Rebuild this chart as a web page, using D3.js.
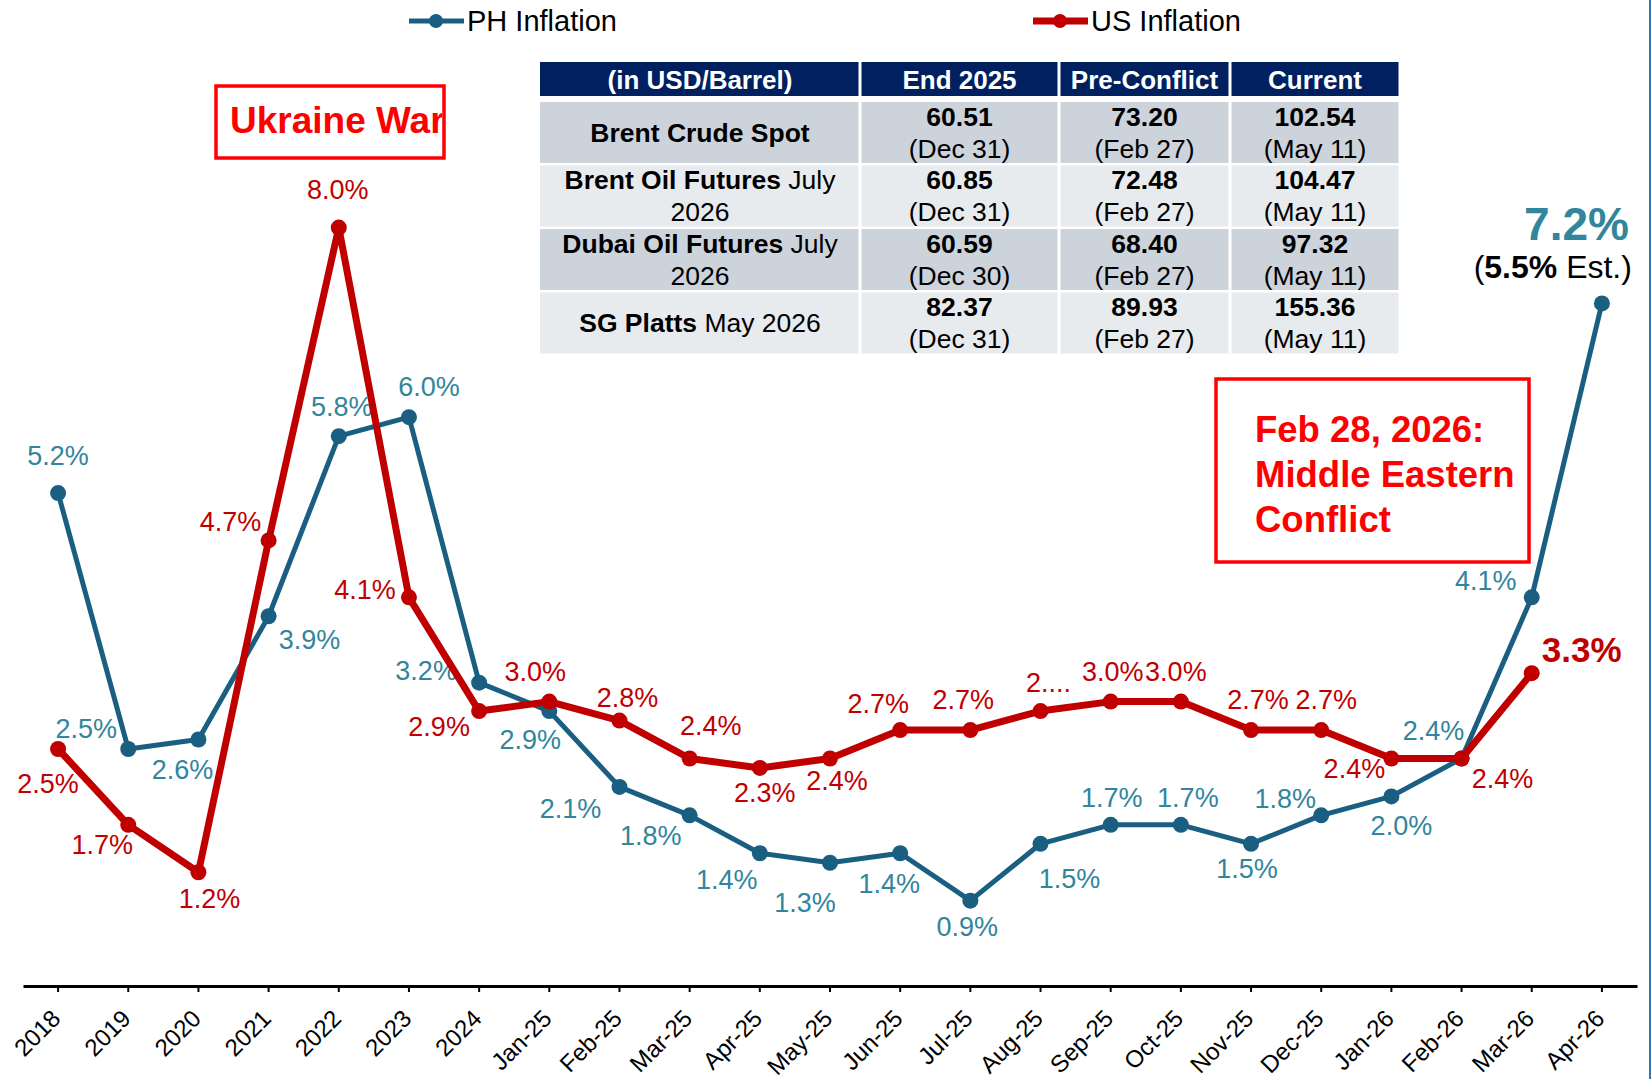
<!DOCTYPE html>
<html>
<head>
<meta charset="utf-8">
<script src="https://cdn.jsdelivr.net/npm/d3@7"></script>
<style>
  body { margin: 0; background: #fff; }
  svg { display: block; font-family: "Liberation Sans", Arial, sans-serif; }
</style>
</head>
<body>
<div id="chart"></div>
<script>
// data
const categories = ["2018","2019","2020","2021","2022","2023","2024","Jan-25","Feb-25","Mar-25","Apr-25","May-25","Jun-25","Jul-25","Aug-25","Sep-25","Oct-25","Nov-25","Dec-25","Jan-26","Feb-26","Mar-26","Apr-26"];
const phInflation = [5.2,2.5,2.6,3.9,5.8,6.0,3.2,2.9,2.1,1.8,1.4,1.3,1.4,0.9,1.5,1.7,1.7,1.5,1.8,2.0,2.4,4.1,7.2];
const usInflation = [2.5,1.7,1.2,4.7,8.0,4.1,2.9,3.0,2.8,2.4,2.3,2.4,2.7,2.7,2.9,3.0,3.0,2.7,2.7,2.4,2.4,3.3,null];
const seriesNames = ["PH Inflation","US Inflation"];

const tableHeader = ["(in USD/Barrel)","End 2025","Pre-Conflict","Current"];
// each row name: lines of [bold part, normal part]
const tableNames = [
  [["Brent Crude Spot",""]],
  [["Brent Oil Futures"," July"],["","2026"]],
  [["Dubai Oil Futures"," July"],["","2026"]],
  [["SG Platts"," May 2026"]]
];
const end2025 = ["60.51","60.85","60.59","82.37"];
const end2025Date = ["Dec 31","Dec 31","Dec 30","Dec 31"];
const preConflict = ["73.20","72.48","68.40","89.93"];
const preConflictDate = ["Feb 27","Feb 27","Feb 27","Feb 27"];
const current = ["102.54","104.47","97.32","155.36"];
const currentDate = ["May 11","May 11","May 11","May 11"];

// label placement (offsets from the point, px)
const phLabelPos = [[0,-37],[-42,-20],[-16,30],[41,23],[3,-30],[20,-31],[-53,-12],[-19,28],[-49,22],[-39,20],[-33,26],[-25,40],[-11,30],[-3,26],[29,35],[1,-27],[7,-27],[-4,25],[-36,-17],[10,29],[-28,-28],[-46,-17],null];
const usLabelPos = [[-10,35],[-26,20],[11,26],[-38,-19],[-1,-38],[-44,-8],[-40,15],[-14,-30],[8,-23],[21,-33],[5,25],[7,22],[-22,-26],[-7,-30],[8,-29],[2,-30],[-5,-30],[7,-30],[5,-30],[-37,10],[41,20],null,null];
const usLabelText = {14: "2...."};

const W = 1652, H = 1079;
const phColor = "#1a5f82", phText = "#31859c";
const usColor = "#c00000";

const svg = d3.select("#chart").append("svg")
  .attr("width", W).attr("height", H)
  .attr("viewBox", [0, 0, W, H].join(" "));

svg.append("rect").attr("width", W).attr("height", H).attr("fill", "#fff");

// right border line
svg.append("line")
  .attr("x1", 1650).attr("x2", 1650).attr("y1", 0).attr("y2", H)
  .attr("stroke", "#2e75b6").attr("stroke-width", 2);

const x = d3.scaleBand().domain(categories).range([23, 1637]).padding(0);
const cx = c => x(c) + x.bandwidth() / 2;
const y = d3.scaleLinear().domain([0, 10]).range([986, 38]);

// x axis
const xAxis = svg.append("g")
  .attr("transform", "translate(0,986)")
  .call(d3.axisBottom(x).tickSize(6).tickSizeOuter(0));
xAxis.select(".domain").attr("stroke", "#000").attr("stroke-width", 3);
xAxis.selectAll(".tick line").attr("stroke", "#000").attr("stroke-width", 2);
xAxis.selectAll(".tick text")
  .attr("x", 0).attr("y", 0).attr("dy", "0.35em")
  .attr("text-anchor", "end")
  .attr("transform", "translate(-2,28) rotate(-45)")
  .attr("font-size", 24)
  .attr("font-family", "Liberation Sans, Arial, sans-serif")
  .attr("fill", "#000");

const line = d3.line()
  .defined(d => d.v != null)
  .x(d => cx(d.c))
  .y(d => y(d.v));

const phData = categories.map((c, i) => ({c, v: phInflation[i], i}));
const usData = categories.map((c, i) => ({c, v: usInflation[i], i}));

// PH series
svg.append("path").datum(phData)
  .attr("d", line).attr("fill", "none")
  .attr("stroke", phColor).attr("stroke-width", 5).attr("stroke-linejoin", "round");
svg.append("g").selectAll("circle")
  .data(phData.filter(d => d.v != null))
  .join("circle")
  .attr("cx", d => cx(d.c)).attr("cy", d => y(d.v)).attr("r", 8)
  .attr("fill", phColor);
svg.append("g").selectAll("text")
  .data(phData.filter(d => phLabelPos[d.i]))
  .join("text")
  .attr("x", d => cx(d.c) + phLabelPos[d.i][0])
  .attr("y", d => y(d.v) + phLabelPos[d.i][1])
  .attr("dy", "0.35em")
  .attr("text-anchor", "middle")
  .attr("font-size", 27)
  .attr("fill", phText)
  .text(d => d3.format(".1f")(d.v) + "%");

// US series
svg.append("path").datum(usData)
  .attr("d", line).attr("fill", "none")
  .attr("stroke", usColor).attr("stroke-width", 7).attr("stroke-linejoin", "round");
svg.append("g").selectAll("circle")
  .data(usData.filter(d => d.v != null))
  .join("circle")
  .attr("cx", d => cx(d.c)).attr("cy", d => y(d.v)).attr("r", 8)
  .attr("fill", usColor);
svg.append("g").selectAll("text")
  .data(usData.filter(d => usLabelPos[d.i]))
  .join("text")
  .attr("x", d => cx(d.c) + usLabelPos[d.i][0])
  .attr("y", d => y(d.v) + usLabelPos[d.i][1])
  .attr("dy", "0.35em")
  .attr("text-anchor", "middle")
  .attr("font-size", 27)
  .attr("fill", usColor)
  .text(d => usLabelText[d.i] || (d3.format(".1f")(d.v) + "%"));

// highlighted end labels
const lastPh = phData[phData.length - 1];
svg.append("text")
  .attr("x", cx(lastPh.c) + 27).attr("y", y(lastPh.v) - 63)
  .attr("text-anchor", "end")
  .attr("font-size", 46).attr("font-weight", "bold")
  .attr("fill", phText)
  .text(d3.format(".1f")(lastPh.v) + "%");
const est = svg.append("text")
  .attr("x", cx(lastPh.c) + 30).attr("y", y(lastPh.v) - 25)
  .attr("text-anchor", "end")
  .attr("font-size", 32).attr("fill", "#000");
est.append("tspan").text("(");
est.append("tspan").attr("font-weight", "bold").text("5.5%");
est.append("tspan").text(" Est.)");

const lastUs = usData[21];
svg.append("text")
  .attr("x", cx(lastUs.c) + 10).attr("y", y(lastUs.v) - 11)
  .attr("font-size", 35).attr("font-weight", "bold")
  .attr("fill", usColor)
  .text(d3.format(".1f")(lastUs.v) + "%");

// legend
const legend = svg.append("g");
[[409, phColor, 5], [1033, usColor, 7]].forEach(([lx, col, sw], k) => {
  const g = legend.append("g").attr("transform", `translate(${lx},21)`);
  g.append("line").attr("x1", 0).attr("x2", 55).attr("stroke", col).attr("stroke-width", sw);
  g.append("circle").attr("cx", 27).attr("r", 7).attr("fill", col);
  g.append("text").attr("x", 58).attr("dy", "0.35em")
    .attr("font-size", 29).attr("fill", "#000").text(seriesNames[k]);
});

// Ukraine War annotation
svg.append("clipPath").attr("id", "ukClip")
  .append("rect").attr("x", 216).attr("y", 86).attr("width", 226).attr("height", 72);
svg.append("text")
  .attr("x", 230).attr("y", 133)
  .attr("clip-path", "url(#ukClip)")
  .attr("font-size", 37).attr("font-weight", "bold").attr("fill", "#ff0000")
  .text("Ukraine War");
svg.append("rect")
  .attr("x", 216).attr("y", 86).attr("width", 228).attr("height", 72)
  .attr("fill", "none").attr("stroke", "#ff0000").attr("stroke-width", 3.5);

// Middle Eastern Conflict annotation
svg.append("rect")
  .attr("x", 1216).attr("y", 379).attr("width", 313).attr("height", 183)
  .attr("fill", "#fff").attr("stroke", "#ff0000").attr("stroke-width", 3.5);
["Feb 28, 2026:", "Middle Eastern", "Conflict"].forEach((t, i) => {
  svg.append("text")
    .attr("x", 1255).attr("y", 442 + i * 45)
    .attr("font-size", 36.5).attr("font-weight", "bold").attr("fill", "#ff0000")
    .text(t);
});

// price table
const colEdges = [540, 860, 1059, 1230, 1400];
const gap = 3;
const colCenter = j => (colEdges[j] + colEdges[j + 1]) / 2;
const table = svg.append("g");

tableHeader.forEach((h, j) => {
  table.append("rect")
    .attr("x", colEdges[j] + (j ? gap / 2 : 0)).attr("y", 62)
    .attr("width", colEdges[j + 1] - colEdges[j] - (j ? gap : gap / 2)).attr("height", 34)
    .attr("fill", "#002060");
  table.append("text")
    .attr("x", colCenter(j)).attr("y", 80).attr("dy", "0.35em")
    .attr("text-anchor", "middle")
    .attr("font-size", 26).attr("font-weight", "bold").attr("fill", "#fff")
    .text(h);
});

const rowTop = i => 102 + i * 63.5;
const rowH = 61;
tableNames.forEach((name, i) => {
  const fill = i % 2 === 0 ? "#cdd3db" : "#e8ebee";
  const mid = rowTop(i) + rowH / 2;
  for (let j = 0; j < 4; j++) {
    table.append("rect")
      .attr("x", colEdges[j] + (j ? gap / 2 : 0)).attr("y", rowTop(i))
      .attr("width", colEdges[j + 1] - colEdges[j] - (j ? gap : gap / 2)).attr("height", rowH)
      .attr("fill", fill);
  }
  name.forEach((ln, k) => {
    const t = table.append("text")
      .attr("x", colCenter(0))
      .attr("y", mid + (name.length === 1 ? 0 : (k === 0 ? -16 : 16)))
      .attr("dy", "0.35em")
      .attr("text-anchor", "middle")
      .attr("font-size", 26.5).attr("fill", "#000");
    if (ln[0]) t.append("tspan").attr("font-weight", "bold").text(ln[0]);
    if (ln[1]) t.append("tspan").text(ln[1]);
  });
  [[end2025, end2025Date], [preConflict, preConflictDate], [current, currentDate]].forEach(([vals, dates], j) => {
    table.append("text")
      .attr("x", colCenter(j + 1)).attr("y", mid - 16).attr("dy", "0.35em")
      .attr("text-anchor", "middle")
      .attr("font-size", 26.5).attr("font-weight", "bold").attr("fill", "#000")
      .text(vals[i]);
    table.append("text")
      .attr("x", colCenter(j + 1)).attr("y", mid + 16).attr("dy", "0.35em")
      .attr("text-anchor", "middle")
      .attr("font-size", 26.5).attr("fill", "#000")
      .text("(" + dates[i] + ")");
  });
});
</script>
</body>
</html>
